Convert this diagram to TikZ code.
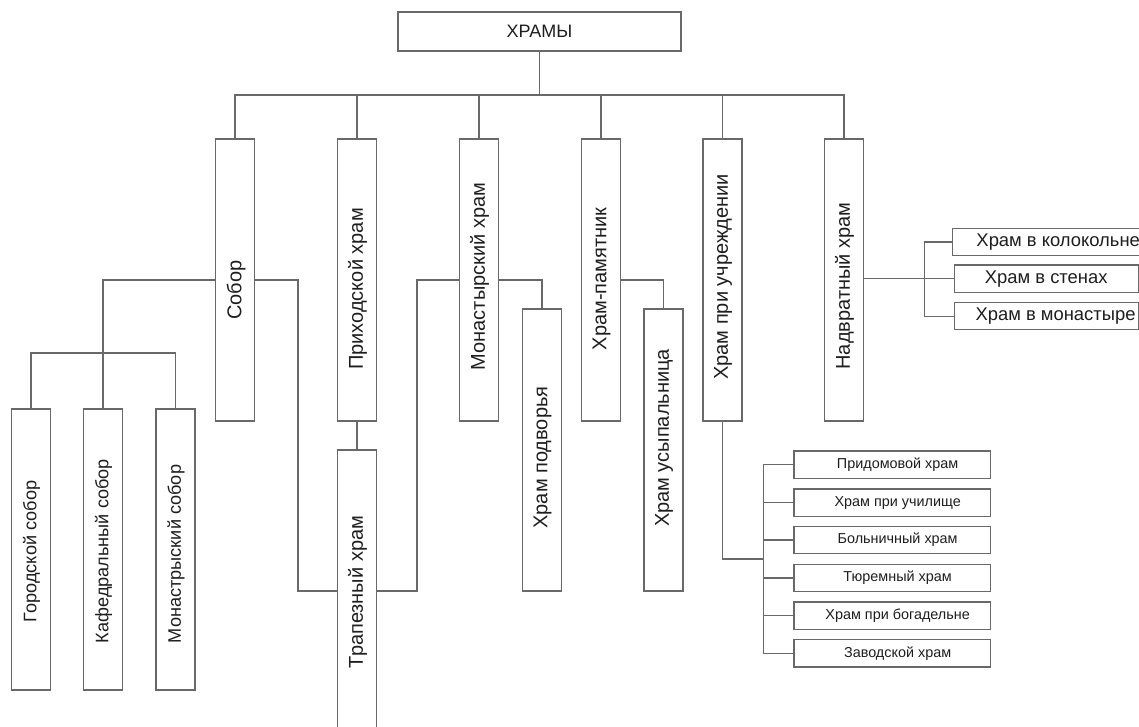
\documentclass[tikz,border=0pt]{standalone}
\usepackage{fontspec}
\setmainfont{Liberation Sans}
\usetikzlibrary{backgrounds}
\definecolor{linec}{RGB}{105,105,105}
\definecolor{txtc}{RGB}{30,30,30}
\begin{document}
\begin{tikzpicture}[x=0.75pt,y=-0.75pt,
  bx/.style={draw=linec,fill=white,line width=0.9pt,inner sep=0pt,rectangle},
  l1/.style={bx,minimum width={39*0.75pt},minimum height={282*0.75pt}},
  l2/.style={bx,minimum width={39*0.75pt},minimum height={281*0.75pt}},
  sb/.style={bx,minimum width={196.7*0.75pt},minimum height={27.3*0.75pt},font=\fontsize{10.8}{10.8}\selectfont,text=txtc},
  rb/.style={bx,minimum width={184*0.75pt},minimum height={27.3*0.75pt},font=\fontsize{13.8}{13.8}\selectfont,text=txtc},
  conn/.style={draw=linec,line width=0.9pt},
  vt/.style={rotate=90,text=txtc,font=\fontsize{15}{15}\selectfont,inner sep=0pt},
  vts/.style={rotate=90,text=txtc,font=\fontsize{13.6}{13.6}\selectfont,inner sep=0pt},
]
\useasboundingbox (0,0) rectangle (1139,726);
\clip (0,0) rectangle (1139,726);

% root
\node[bx,minimum width={283*0.75pt},minimum height={39*0.75pt},font=\fontsize{13.5}{13.5}\selectfont,text=txtc] (root) at (539.5,31.5) {ХРАМЫ};

% level 1
\node[l1] (sobor) at (235,280) {};
\node[l1] (prih) at (357,280) {};
\node[l1] (monh) at (479,280) {};
\node[l1] (pam) at (601,280) {};
\node[l1] (uchr) at (722.5,280) {};
\node[l1] (nadv) at (844,280) {};
\node[vt] (tsobor) at (236,290) {Собор};
\node[vt] (tprih) at (357.5,289) {Приходской храм};
\node[vt] (tmonh) at (479.5,276.5) {Монастырский храм};
\node[vt] (tpam) at (601.5,279) {Храм-памятник};
\node[vt] (tuchr) at (723,277) {Храм при учреждении};
\node[vt] (tnadv) at (844.5,286) {Надвратный храм};

% children of Собор
\node[l2] (gor) at (31,549.5) {};
\node[l2] (kaf) at (103,549.5) {};
\node[l2] (mons) at (175.5,549.5) {};
\node[vts] (tgor) at (31.5,551.5) {Городской собор};
\node[vts] (tkaf) at (103.5,551) {Кафедральный собор};
\node[vts] (tmons) at (176,554) {Монастрыский собор};

% Трапезный, подворья, усыпальница
\node[bx,minimum width={39.5*0.75pt},minimum height={310*0.75pt}] (trap) at (357,605) {};
\node[vt] (ttrap) at (357.5,592) {Трапезный храм};
\node[l1] (podv) at (542,450) {};
\node[vt] (tpodv) at (542.5,457.5) {Храм подворья};
\node[l1] (usyp) at (663.5,450) {};
\node[vt] (tusyp) at (664,438) {Храм усыпальница};

% institutional temples
\node[sb] (s1) at (892.3,464.7) {\hspace{8pt}Придомовой храм};
\node[sb] (s2) at (892.3,502.7) {\hspace{8pt}Храм при училище};
\node[sb] (s3) at (892.3,540) {\hspace{8pt}Больничный храм};
\node[sb] (s4) at (892.3,578) {\hspace{8pt}Тюремный храм};
\node[sb] (s5) at (892.3,615.7) {\hspace{8pt}Храм при богадельне};
\node[sb] (s6) at (892.3,653.3) {\hspace{8pt}Заводской храм};

% gate temples
\node[rb] (r1) at (1046.2,242) {\hspace{18pt}Храм в колокольне};
\node[rb] (r2) at (1046.2,278.7) {Храм в стенах};
\node[rb] (r3) at (1046.2,316.2) {\hspace{14pt}Храм в монастыре};

\begin{pgfonlayer}{background}
\draw[conn] (root.south) -- (root.south |- 0,95);
\draw[conn] (sobor.north) |- (nadv.north |- 0,95) -- (nadv.north);
\foreach \n in {prih,monh,pam,uchr} \draw[conn] (\n.north) -- (\n.north |- 0,95);

% Собор branch
\coordinate (sobR) at (298,280);
\draw[conn] (kaf.north) -- (kaf.north |- 0,280) -- (sobR) |- (trap.west |- 0,591);
\draw[conn] (gor.north) |- (mons.north |- 0,353) -- (mons.north);

% Приходской -> Трапезный
\draw[conn] (prih.south) -- (trap.north);
% Трапезный -> Монастырский -> подворья
\coordinate (monL) at (417,280);
\draw[conn] (trap.east |- 0,591) -| (monL) -| (podv.north);
% памятник -> усыпальница
\draw[conn] (pam.east |- 0,280) -| (usyp.north);

% учреждении
\coordinate (ub) at (763.3,559);
\draw[conn] (uchr.south) |- (ub);
\draw[conn] (s1.west) -- (s1.west -| ub) -- (s6.west -| ub) -- (s6.west);
\foreach \n in {s2,s3,s4,s5} \draw[conn] (\n.west) -- (\n.west -| ub);

% надвратный
\coordinate (nb) at (924.3,279.3);
\draw[conn] (nadv.east |- r2.west) -- (r2.west);
\draw[conn] (r1.west) -- (r1.west -| nb) -- (r3.west -| nb) -- (r3.west);
\end{pgfonlayer}
\end{tikzpicture}
\end{document}
